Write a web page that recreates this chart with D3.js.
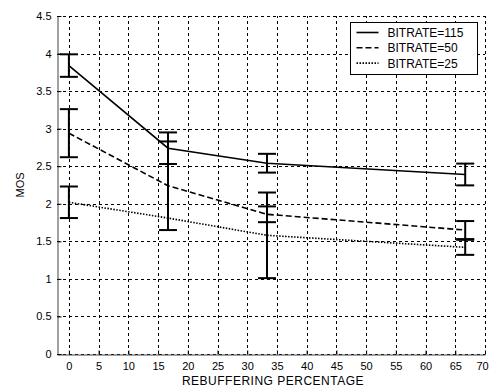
<!DOCTYPE html>
<html>
<head>
<meta charset="utf-8">
<script src="https://cdn.jsdelivr.net/npm/d3@7"></script>
<style>
  body { margin: 0; background: #fff; }
  text { font-family: "Liberation Sans", Arial, sans-serif; fill: #000; }
</style>
</head>
<body>
<div id="chart"></div>
<script>
const xValues = [0, 16.67, 33.33, 66.67];
const seriesNames = ['BITRATE=115', 'BITRATE=50', 'BITRATE=25'];
const mos115 = [3.84, 2.74, 2.54, 2.39];
const mos50 = [2.94, 2.24, 1.86, 1.65];
const mos25 = [2.02, 1.81, 1.58, 1.42];
// error half-widths, null where the chart shows no bar
const err115 = [0.15, 0.21, 0.125, 0.145];
const err50 = [0.32, 0.59, 0.105, 0.12];
const err25 = [0.21, null, 0.57, 0.10];
const xTicks = [0, 5, 10, 15, 20, 25, 30, 35, 40, 45, 50, 55, 60, 65, 70];
const yTicks = [0, 0.5, 1, 1.5, 2, 2.5, 3, 3.5, 4, 4.5];

const width = 490;
const height = 387;
const margin = {left: 57, right: 5, top: 16, bottom: 33};

const svg = d3.select('#chart').append('svg')
  .attr('width', width)
  .attr('height', height);

const xScale = d3.scaleLinear()
  .domain([-2, 70])
  .range([margin.left, width - margin.right]);
const yScale = d3.scaleLinear()
  .domain([0, 4.5])
  .range([height - margin.bottom, margin.top]);

// grid
const grid = svg.append('g')
  .attr('stroke', '#000')
  .attr('stroke-width', 1)
  .attr('stroke-dasharray', '3,3');
grid.selectAll('.vg')
  .data(xTicks)
  .enter().append('line')
  .attr('x1', d => Math.round(xScale(d)) + 0.5)
  .attr('x2', d => Math.round(xScale(d)) + 0.5)
  .attr('y1', yScale(0))
  .attr('y2', yScale(4.5));
grid.selectAll('.hg')
  .data(yTicks)
  .enter().append('line')
  .attr('x1', xScale(-2))
  .attr('x2', xScale(70))
  .attr('y1', d => Math.round(yScale(d)) + 0.5)
  .attr('y2', d => Math.round(yScale(d)) + 0.5);

// axes
const xAxis = d3.axisBottom(xScale)
  .tickValues(xTicks)
  .tickSizeInner(-4)
  .tickSizeOuter(0)
  .tickPadding(8);
const yAxis = d3.axisLeft(yScale)
  .tickValues(yTicks)
  .tickFormat(d => String(d))
  .tickSizeInner(-4)
  .tickSizeOuter(0)
  .tickPadding(6);

svg.append('g')
  .attr('transform', `translate(0, ${Math.round(yScale(0)) + 0.5})`)
  .call(xAxis)
  .call(g => g.selectAll('text').style('font-size', '11px').attr('fill', '#000'))
  .call(g => g.select('.domain').attr('stroke', '#444'))
  // last label sits on the window edge; nudge it in so it stays readable
  .call(g => g.selectAll('.tick').filter(d => d === 70).select('text').attr('dx', -3));
svg.append('g')
  .attr('transform', `translate(${Math.round(xScale(-2)) + 0.5}, 0)`)
  .call(yAxis)
  .call(g => g.selectAll('text').style('font-size', '11px').attr('fill', '#000'))
  .call(g => g.select('.domain').attr('stroke', '#444'));

svg.append('text')
  .attr('x', (xScale(-2) + xScale(70)) / 2 + 2)
  .attr('y', height - 2)
  .attr('text-anchor', 'middle')
  .style('font-size', '12px')
  .style('letter-spacing', '0.5px')
  .text('REBUFFERING  PERCENTAGE');
svg.append('text')
  .attr('transform', `translate(24, ${yScale(2.25)}) rotate(-90)`)
  .attr('text-anchor', 'middle')
  .style('font-size', '11px')
  .text('MOS');

const series = [
  {name: seriesNames[0], values: mos115, errs: err115, dash: null},
  {name: seriesNames[1], values: mos50, errs: err50, dash: '6,3'},
  {name: seriesNames[2], values: mos25, errs: err25, dash: '1.5,1.5'}
];

const line = d3.line()
  .x((d, i) => xScale(xValues[i]))
  .y(d => yScale(d));

series.forEach(s => {
  svg.append('path')
    .datum(s.values)
    .attr('fill', 'none')
    .attr('stroke', '#000')
    .attr('stroke-width', 1.6)
    .attr('stroke-dasharray', s.dash)
    .attr('d', line);
});

// error bars
const capHalf = 9;
series.forEach(s => {
  s.values.forEach((v, i) => {
    const e = s.errs[i];
    if (e === null) {
      return;
    }
    const x = xScale(xValues[i]);
    const g = svg.append('g')
      .attr('stroke', '#000')
      .attr('stroke-width', 2);
    g.append('line')
      .attr('x1', x).attr('x2', x)
      .attr('y1', yScale(v - e)).attr('y2', yScale(v + e));
    [v - e, v + e].forEach(c => {
      g.append('line')
        .attr('x1', x - capHalf).attr('x2', x + capHalf)
        .attr('y1', yScale(c)).attr('y2', yScale(c));
    });
  });
});

// legend
const legend = svg.append('g')
  .attr('transform', 'translate(350.5, 22.5)');
legend.append('rect')
  .attr('width', 127)
  .attr('height', 52)
  .attr('fill', '#fff')
  .attr('stroke', '#000')
  .attr('stroke-width', 1);
series.forEach((s, i) => {
  const y = 10 + i * 15.3;
  legend.append('line')
    .attr('x1', 6).attr('x2', 28)
    .attr('y1', y).attr('y2', y)
    .attr('stroke', '#000')
    .attr('stroke-width', 1.6)
    .attr('stroke-dasharray', s.dash);
  legend.append('text')
    .attr('x', 37)
    .attr('y', y + 4.5)
    .style('font-size', '12px')
    .text(s.name);
});
</script>
</body>
</html>
